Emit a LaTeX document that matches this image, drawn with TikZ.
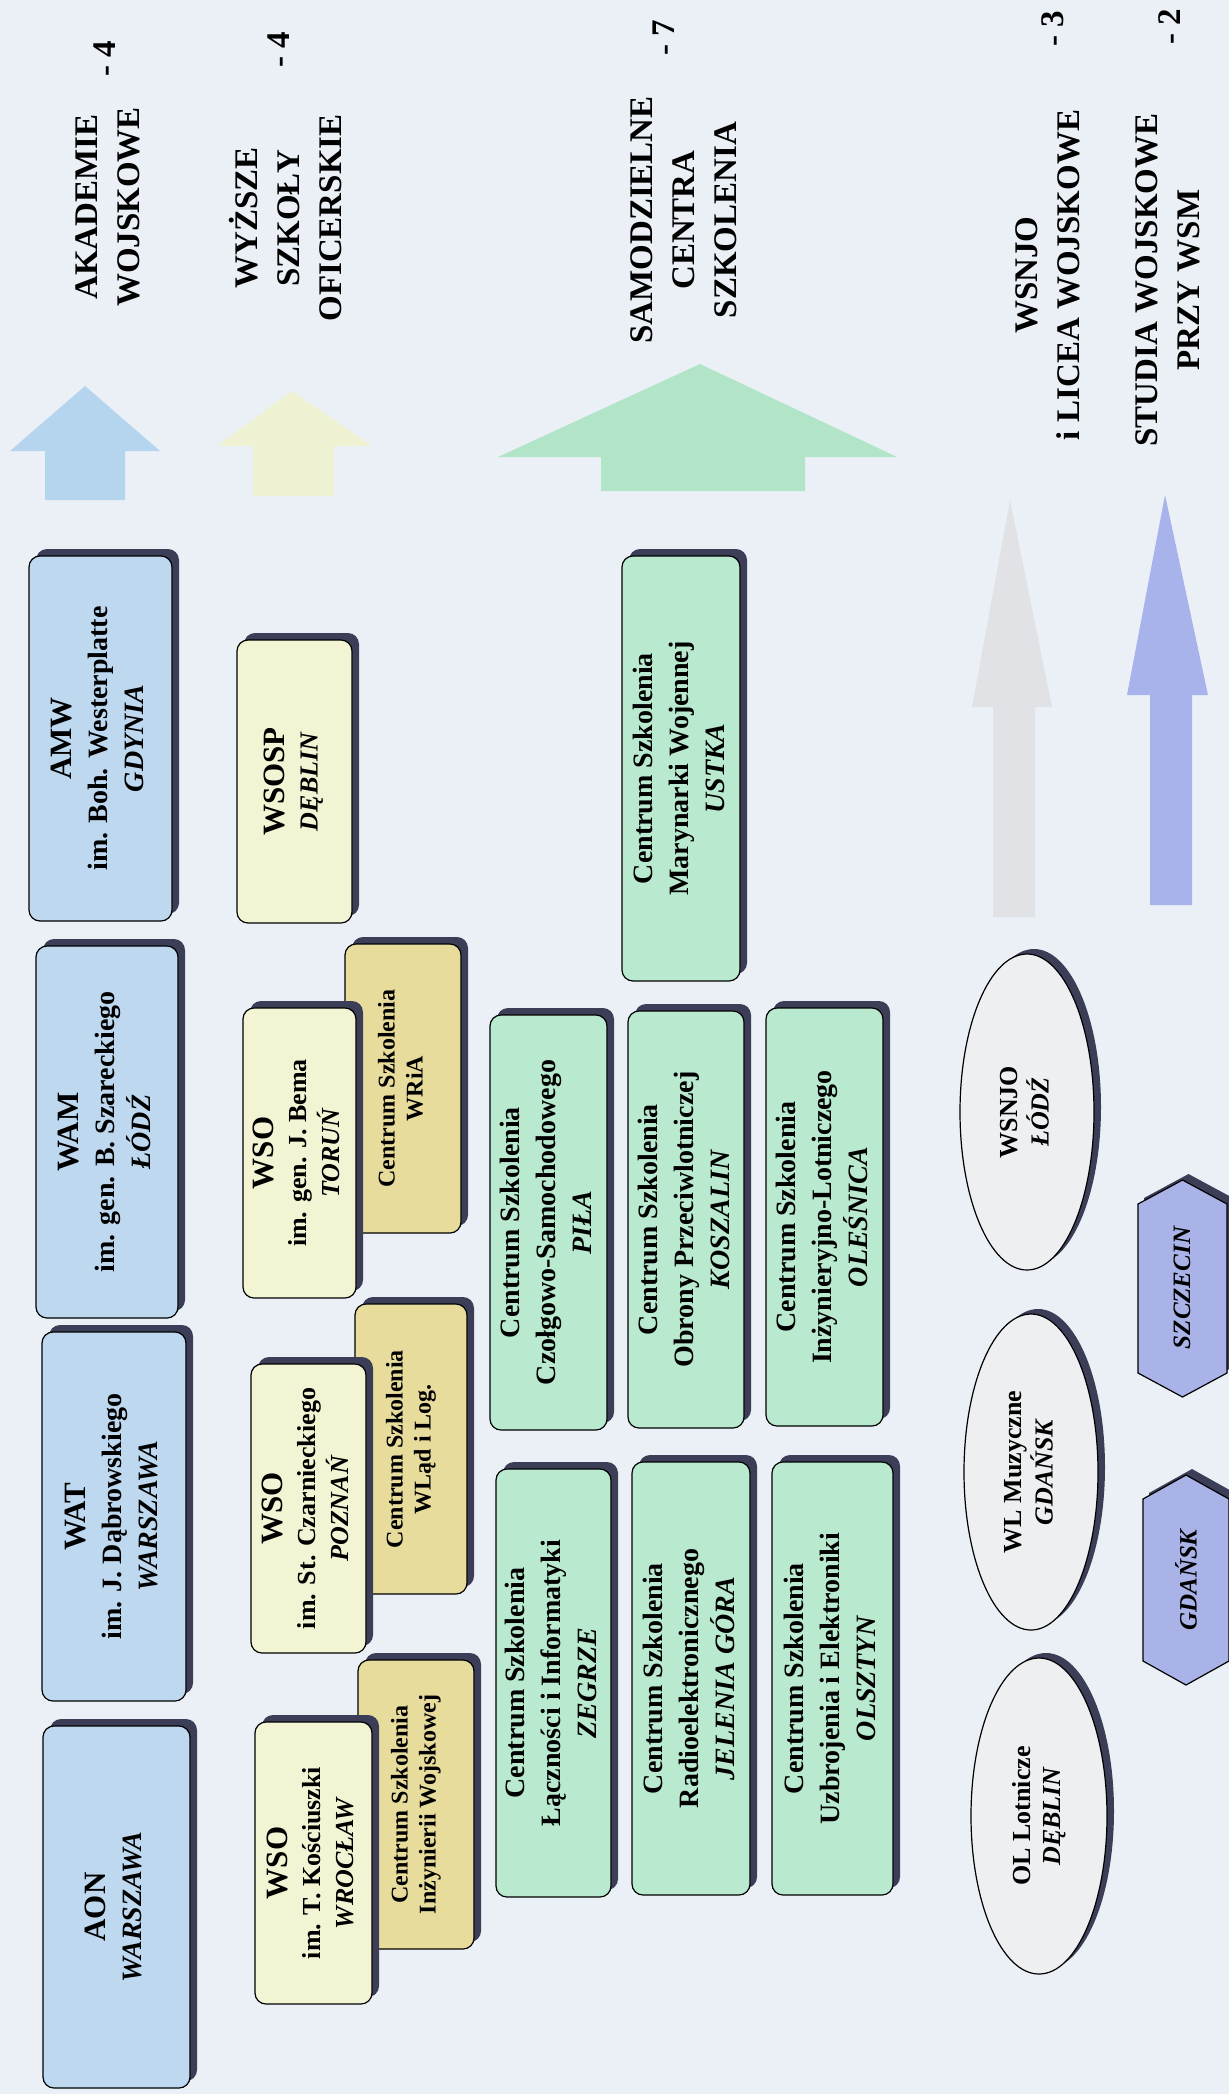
\documentclass[tikz,border=0pt]{standalone}
\usepackage{fontspec}
\setmainfont{Liberation Serif}
\usetikzlibrary{shapes.geometric,shadows}
\definecolor{bgc}{HTML}{EBF0F7}
\definecolor{bluec}{HTML}{BDD8EF}
\definecolor{yelc}{HTML}{F2F4D3}
\definecolor{tanc}{HTML}{E8DC9C}
\definecolor{grnc}{HTML}{B9E9CF}
\definecolor{ellc}{HTML}{EDEFF1}
\definecolor{hexc}{HTML}{A9B3E8}
\definecolor{shadowc}{HTML}{3C3E58}
\definecolor{arrblue}{HTML}{B5D4EE}
\definecolor{arryel}{HTML}{EEF2D2}
\definecolor{arrgrn}{HTML}{B2E5C8}
\definecolor{arrgray}{HTML}{E0E2E6}
\definecolor{arrpur}{HTML}{A7B3EA}
\newcommand{\tb}[1]{\begin{tabular}{@{}c@{}}#1\end{tabular}}
\newcommand{\ttl}[1]{{\fontsize{31}{36}\selectfont #1}}
\newcommand{\plc}[1]{\textit{#1}}
\tikzset{
  box/.style={draw=black, line width=1.2pt, rounded corners=11pt, inner sep=0pt,
    drop shadow={shadow xshift=7pt, shadow yshift=7pt, fill=shadowc, opacity=1}},
  bluebox/.style={box, fill=bluec, font=\fontsize{28}{36}\selectfont\bfseries},
  yelbox/.style={box, fill=yelc, font=\fontsize{26}{33}\selectfont\bfseries},
  tanbox/.style={box, fill=tanc, font=\fontsize{24}{28}\selectfont\bfseries},
  grnbox/.style={box, fill=grnc, font=\fontsize{28}{36}\selectfont\bfseries},
  ell/.style={ellipse, draw=black, line width=1.2pt, fill=ellc, inner sep=0pt,
    font=\fontsize{26}{30}\selectfont\bfseries,
    drop shadow={shadow xshift=7pt, shadow yshift=5pt, fill=shadowc, opacity=1}},
  hextext/.style={inner sep=0pt, font=\fontsize{25}{30}\selectfont\bfseries\itshape},
  lbl/.style={rotate=90, font=\fontsize{33}{42}\selectfont\bfseries, align=center, inner sep=0pt},
}
\newcommand{\BX}[7]{\node[#2, minimum width={(#5-#3)*1pt}, minimum height={(#6-#4)*1pt}] (#1) at ({(#3+#5)/2},{(#4+#6)/2}) {\rotatebox{90}{#7}};}
\newcommand{\HX}[5]{%
  \fill[shadowc, xshift=6pt, yshift=6pt] (#2,#3+24) -- ({(#2+#4)/2},#3) -- (#4,#3+24) -- (#4,#5-24) -- ({(#2+#4)/2},#5) -- (#2,#5-24) -- cycle;
  \filldraw[fill=hexc, draw=black, line width=1.2pt] (#2,#3+24) -- ({(#2+#4)/2},#3) -- (#4,#3+24) -- (#4,#5-24) -- ({(#2+#4)/2},#5) -- (#2,#5-24) -- cycle;
}
\begin{document}
\begin{tikzpicture}[x=1pt,y=-1pt]
\useasboundingbox (0,0) rectangle (1229,2094);
\fill[bgc] (0,0) rectangle (1229,2094);

% big arrows
\fill[arrblue] (45,500) -- (45,451) -- (10,451) -- (85,386) -- (160,451) -- (125,451) -- (125,500) -- cycle;
\fill[arryel] (253,496) -- (253,446) -- (217,446) -- (292,391) -- (372,446) -- (334,446) -- (334,496) -- cycle;
\fill[arrgrn] (601,491) -- (601,457) -- (498,457) -- (700,364) -- (897,457) -- (805,457) -- (805,491) -- cycle;
\fill[arrgray] (993,917) -- (993,707) -- (972,707) -- (1010,500) -- (1052,707) -- (1035,707) -- (1035,917) -- cycle;
\fill[arrpur] (1150,905) -- (1150,695) -- (1127,695) -- (1165,495) -- (1208,695) -- (1192,695) -- (1192,905) -- cycle;

% labels
\node[lbl] (lakad) at (108,207) {AKADEMIE\\WOJSKOWE};
\node[lbl] (nakad) at (105,59) {- 4};
\node[lbl] (lwso) at (286,218) {WYŻSZE\\SZKOŁY\\OFICERSKIE};
\node[lbl] (nwso) at (279,50) {- 4};
\node[lbl] (lcs) at (684,220) {SAMODZIELNE\\CENTRA\\SZKOLENIA};
\node[lbl] (ncs) at (664,38) {- 7};
\node[lbl] (llic) at (1048,275) {WSNJO\\i LICEA WOJSKOWE};
\node[lbl] (nlic) at (1053,29) {- 3};
\node[lbl] (lstud) at (1168,280) {STUDIA WOJSKOWE\\PRZY WSM};
\node[lbl] (nstud) at (1170,27) {- 2};

% academies
\BX{amw}{bluebox}{29}{556}{172}{921}{\tb{\ttl{AMW}\\im. Boh. Westerplatte\\\plc{GDYNIA}}}
\BX{wam}{bluebox}{36}{946}{178}{1318}{\tb{\ttl{WAM}\\im. gen. B. Szareckiego\\\plc{ŁÓDŹ}}}
\BX{wat}{bluebox}{42}{1332}{186}{1701}{\tb{\ttl{WAT}\\im. J. Dąbrowskiego\\\plc{WARSZAWA}}}
\BX{aon}{bluebox}{43}{1726}{190}{2088}{\tb{\ttl{AON}\\\plc{WARSZAWA}}}

% officer schools
\BX{wsosp}{yelbox}{237}{640}{352}{923}{\tb{\ttl{WSOSP}\\\plc{DĘBLIN}}}
\BX{cswria}{tanbox}{345}{944}{461}{1233}{\tb{Centrum Szkolenia\\WRiA}}
\BX{wsot}{yelbox}{243}{1008}{356}{1298}{\tb{\ttl{WSO}\\im. gen. J. Bema\\\plc{TORUŃ}}}
\BX{cswl}{tanbox}{355}{1304}{467}{1594}{\tb{Centrum Szkolenia\\WLąd i Log.}}
\BX{wsop}{yelbox}{251}{1364}{366}{1653}{\tb{\ttl{WSO}\\im. St. Czarnieckiego\\\plc{POZNAŃ}}}
\BX{csiw}{tanbox}{358}{1660}{474}{1949}{\tb{Centrum Szkolenia\\Inżynierii Wojskowej}}
\BX{wsow}{yelbox}{255}{1722}{372}{2004}{\tb{\ttl{WSO}\\im. T. Kościuszki\\\plc{WROCŁAW}}}

% training centres
\BX{pila}{grnbox}{490}{1015}{607}{1430}{\tb{Centrum Szkolenia\\Czołgowo-Samochodowego\\\plc{PIŁA}}}
\BX{zegrze}{grnbox}{496}{1469}{611}{1897}{\tb{Centrum Szkolenia\\Łączności i Informatyki\\\plc{ZEGRZE}}}
\BX{ustka}{grnbox}{622}{556}{740}{981}{\tb{Centrum Szkolenia\\Marynarki Wojennej\\\plc{USTKA}}}
\BX{kosz}{grnbox}{628}{1011}{744}{1428}{\tb{Centrum Szkolenia\\Obrony Przeciwlotniczej\\\plc{KOSZALIN}}}
\BX{jel}{grnbox}{632}{1462}{750}{1895}{\tb{Centrum Szkolenia\\Radioelektronicznego\\\plc{JELENIA GÓRA}}}
\BX{oles}{grnbox}{766}{1008}{883}{1426}{\tb{Centrum Szkolenia\\Inżynieryjno-Lotniczego\\\plc{OLEŚNICA}}}
\BX{olsz}{grnbox}{772}{1462}{893}{1895}{\tb{Centrum Szkolenia\\Uzbrojenia i Elektroniki\\\plc{OLSZTYN}}}

% schools
\node[ell, minimum width=134pt, minimum height=316pt] (wsnjo) at (1027,1112) {\rotatebox{90}{\tb{WSNJO\\\plc{ŁÓDŹ}}}};
\node[ell, minimum width=134pt, minimum height=316pt] (wlm) at (1031,1472) {\rotatebox{90}{\tb{WL Muzyczne\\\plc{GDAŃSK}}}};
\node[ell, minimum width=136pt, minimum height=316pt] (ol) at (1039,1816) {\rotatebox{90}{\tb{OL Lotnicze\\\plc{DĘBLIN}}}};

% studies
\HX{hs}{1138}{1180}{1227}{1397}
\node[hextext] (szczecin) at (1182,1288) {\rotatebox{90}{SZCZECIN}};
\HX{hg}{1143}{1475}{1229}{1685}
\node[hextext] (gdansk) at (1186,1580) {\rotatebox{90}{GDAŃSK}};
\end{tikzpicture}
\end{document}
